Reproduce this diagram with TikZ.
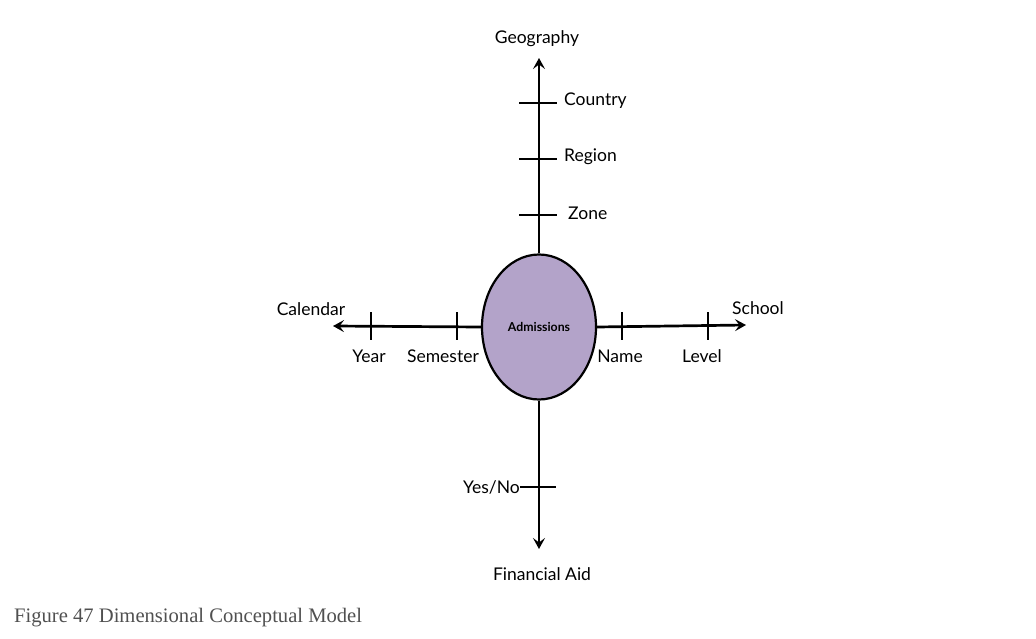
\documentclass[tikz,border=0pt]{standalone}
\usepackage{fontspec}
\setmainfont{Lato}
\newfontfamily\capfont{Liberation Serif}
\usetikzlibrary{arrows.meta,shapes.geometric}
\definecolor{lilac}{HTML}{B3A3C9}
\definecolor{capgray}{HTML}{505050}
\tikzset{
  axis/.style={line width=2.7pt, -{Stealth[length=11pt,width=12pt,inset=4.5pt]}},
  tick/.style={line width=2.7pt},
  lbl/.style={font=\fontsize{17.5}{20}\selectfont, inner sep=1pt, text=black},
}
\begin{document}
\begin{tikzpicture}[x=1pt,y=-1pt]
\useasboundingbox (0,0) rectangle (1036,639);
\node[ellipse, draw, line width=2.2pt, fill=lilac, minimum width=114pt, minimum height=145pt, font=\bfseries\fontsize{12.3}{14}\selectfont] (adm) at (539,327) {Admissions};
% axes
\coordinate (gtip) at (539,58);
\coordinate (ftip) at (539,549);
\coordinate (ctip) at (333,326);
\coordinate (stip) at (746,325);
\draw[axis] (adm.north) -- (gtip);
\draw[axis] (adm.south) -- (ftip);
\draw[axis] (adm.west) -- (ctip);
\draw[axis] (adm.east) -- (stip);
% ticks on geography
\foreach \n/\y in {country/103, region/159, zone/215}{
  \coordinate (\n L) at (519,\y);
  \coordinate (\n R) at (557,\y);
  \draw[tick] (\n L) -- (\n R);
}
\node[lbl, anchor=west] (country) at (563,101) {Country};
\node[lbl, anchor=west] (region) at (563,157) {Region};
\node[lbl, anchor=west] (zone) at (567,213) {Zone};
\node[lbl] (geo) at (537,39) {Geography};
% calendar and school ticks
\foreach \n/\x in {year/371, sem/457, name/622, level/708}{
  \coordinate (\n T) at (\x,312);
  \coordinate (\n B) at (\x,340);
  \draw[tick] (\n T) -- (\n B);
}
\node[lbl] (year) at (369,356) {Year};
\node[lbl] (semester) at (443,356) {Semester};
\node[lbl] (namel) at (620,356) {Name};
\node[lbl] (levell) at (702,356) {Level};
\node[lbl] (cal) at (311,309) {Calendar};
\node[lbl] (school) at (758,308) {School};
% financial aid
\coordinate (ynL) at (520,487);
\coordinate (ynR) at (556,487);
\draw[tick] (ynL) -- (ynR);
\node[lbl, anchor=east, inner sep=0pt] (yesno) at (ynL) {Yes/No};
\node[lbl] (fin) at (542,574) {Financial Aid};
% caption
\node[anchor=west, inner sep=0pt, font=\capfont\fontsize{20.6}{24}\selectfont, text=capgray] (cap) at (14,618) {Figure 47 Dimensional Conceptual Model};
\end{tikzpicture}
\end{document}
